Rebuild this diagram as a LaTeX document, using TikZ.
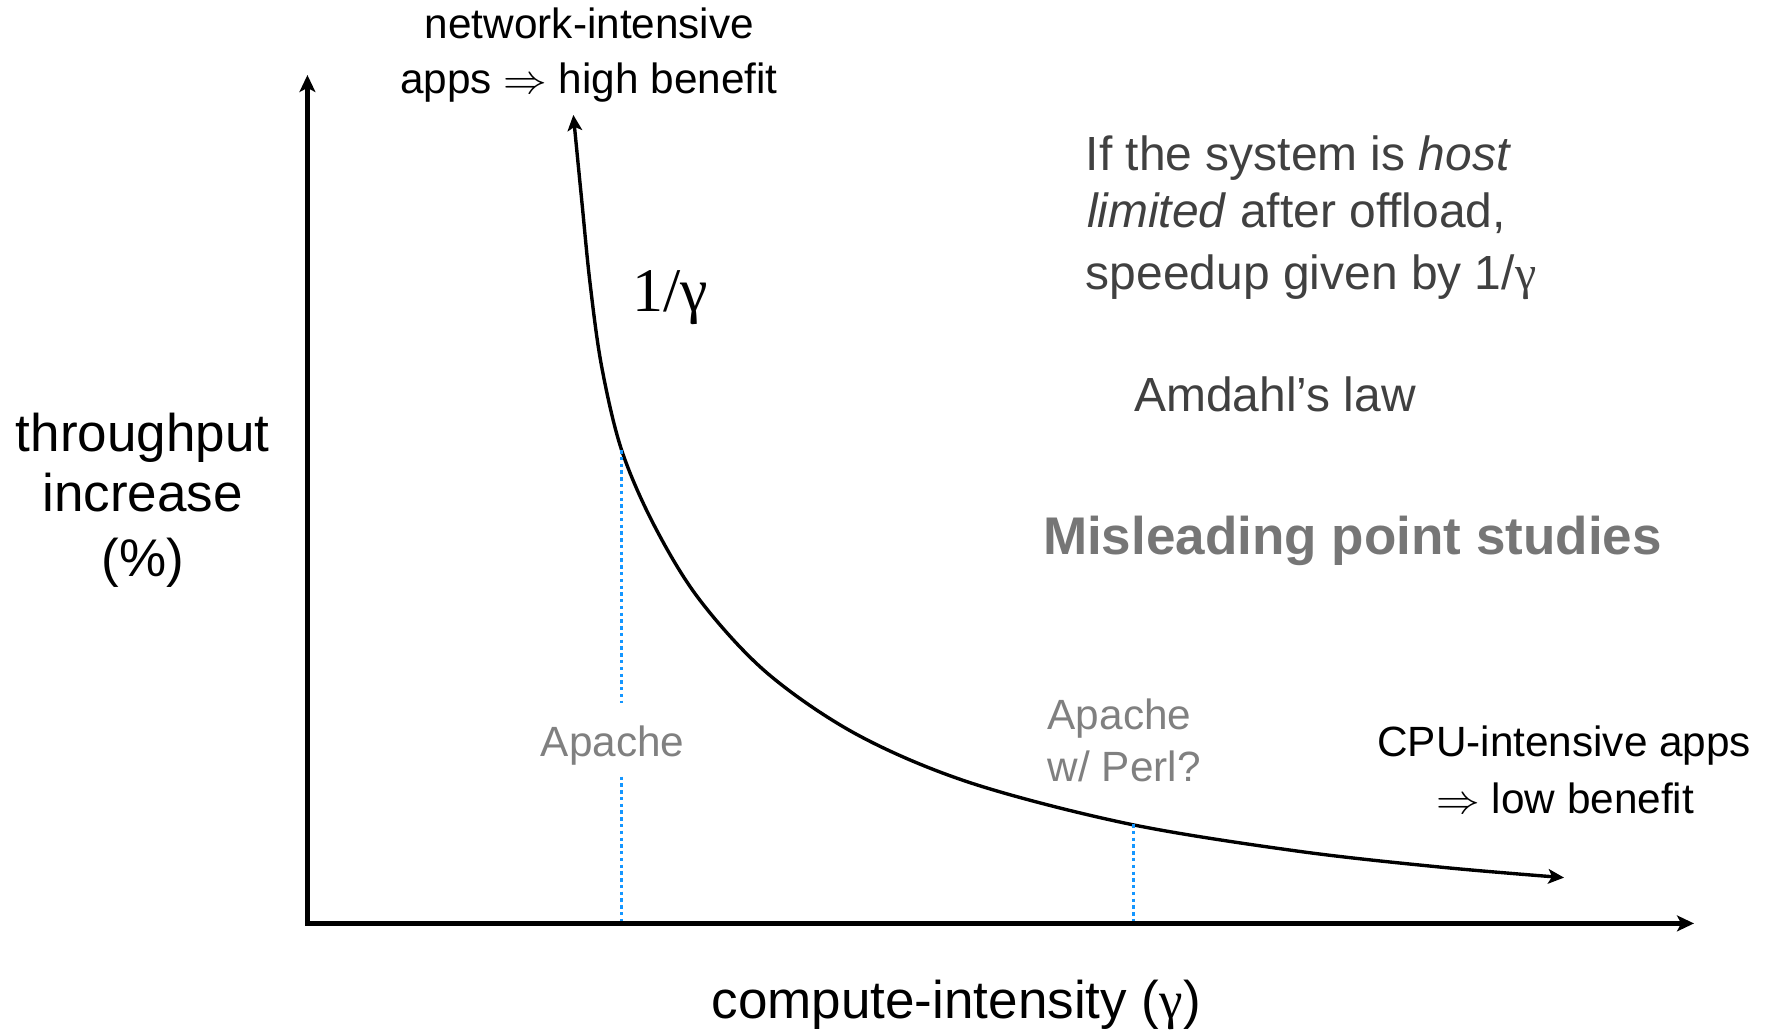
\documentclass[tikz,border=0pt]{standalone}
\usepackage{fontspec}
\usepackage{graphicx}
\setmainfont{Liberation Sans}
\newfontfamily\greekserif{Liberation Serif}
\usetikzlibrary{arrows.meta}

\definecolor{notegray}{RGB}{64,64,64}
\definecolor{headgray}{RGB}{118,118,118}
\definecolor{appgray}{RGB}{128,128,128}
\definecolor{guideblue}{RGB}{20,150,255}

\newcommand{\implarrow}{\scalebox{1.12}[1.05]{$\Rightarrow$}}

\tikzset{
  lbl/.style={inner sep=0pt, outer sep=0pt},
  smalltext/.style={lbl, font=\fontsize{18.75}{22}\selectfont},
  midtext/.style={lbl, font=\fontsize{21.25}{25}\selectfont},
  bigtext/.style={lbl, font=\fontsize{23.5}{28}\selectfont},
  axisline/.style={line width=2pt, line join=miter, {Stealth[length=7.5pt, width=7pt, inset=1.8pt]}-{Stealth[length=7.5pt, width=7pt, inset=1.8pt]}},
  curveline/.style={line width=1.5pt, {Stealth[length=7pt, width=6.5pt, inset=1.7pt]}-{Stealth[length=7pt, width=6.5pt, inset=1.7pt]}},
  guide/.style={draw=guideblue, line width=1.25pt, dash pattern=on 1.5pt off 1.5pt},
}

\begin{document}
\begin{tikzpicture}[x=0.5pt, y=-0.5pt]
\useasboundingbox (0,0) rectangle (1568,913);

% axes
\coordinate (O) at (272.5,818.5);
\coordinate (ytip) at (272.5,66.5);
\coordinate (xtip) at (1501.5,818.5);
\draw[axisline] (ytip) -- (O) -- (xtip);

% 1/gamma curve
\draw[curveline] plot[smooth, tension=0.55] coordinates {
  (508.2,101.9) (515.6,177.3) (523,251) (533.3,325) (551,399)
  (580,466) (620,531.5) (680,596.6) (760,651.3) (860,693.8)
  (1000,730.2) (1150,754.4) (1280,768.9) (1386.3,777.9)};

% reference lines for the two applications
\coordinate (apTop) at (551,399);
\coordinate (apGapA) at (551,623.4);
\coordinate (apGapB) at (551,688.4);
\coordinate (apBase) at (551,816.5);
\coordinate (plTop) at (1004.6,730.5);
\coordinate (plBase) at (1004.6,816.5);
\draw[guide] (apTop) -- (apGapA);
\draw[guide] (apGapB) -- (apBase);
\draw[guide] (plTop) -- (plBase);

% axis labels
\node[bigtext, anchor=base] (ylab1) at (126.5,400.3) {throughput};
\node[bigtext, anchor=base] (ylab2) at (126.5,453.8) {increase};
\node[bigtext, anchor=base] (ylab3) at (126.5,511) {(\%)};
\node[bigtext, anchor=base] (xlab) at (847.5,902.5) {compute-intensity ({\greekserif γ})};

% curve end labels
\node[smalltext, anchor=base] (net1) at (522.5,34) {network-intensive};
\node[smalltext, anchor=base] (net2) at (522,82.7) {apps \implarrow{} high benefit};
\node[smalltext, anchor=base] (cpu1) at (1386.5,670.7) {CPU-intensive apps};
\node[smalltext, anchor=base] (cpu2) at (1387.5,720.9) {\implarrow{} low benefit};

\node[lbl, anchor=base west, font=\greekserif\fontsize{27.5}{32}\selectfont] (inv) at (560.5,276.3) {1/γ};

% application labels
\node[smalltext, anchor=base, text=appgray] (apache) at (543,670.7) {Apache};
\node[smalltext, anchor=base west, text=appgray] (perl1) at (928.7,647) {Apache};
\node[smalltext, anchor=base west, text=appgray] (perl2) at (928.7,692.8) {w/ Perl?};

% notes
\node[midtext, anchor=base west, text=notegray] (note1) at (962.5,150.7) {If the system is \textit{host}};
\node[midtext, anchor=base west, text=notegray] (note2) at (963.5,201.5) {\textit{limited} after offload,};
\node[midtext, anchor=base west, text=notegray] (note3) at (962.5,257) {speedup given by 1/{\greekserif γ}};
\node[midtext, anchor=base west, text=notegray] (amdahl) at (1005.5,364.9) {Amdahl’s law};
\node[bigtext, anchor=base west, text=headgray, font=\fontsize{23.5}{28}\selectfont\bfseries] (mislead) at (924.5,491.9) {Misleading point studies};
\end{tikzpicture}
\end{document}
